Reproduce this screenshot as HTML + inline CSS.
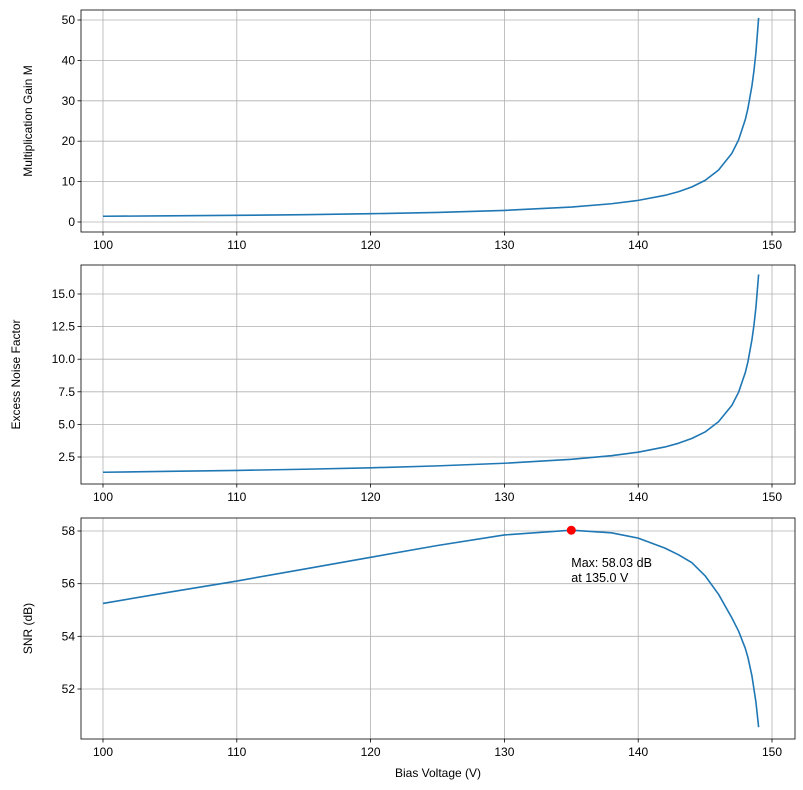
<!DOCTYPE html>
<html><head><meta charset="utf-8"><style>
html,body{margin:0;padding:0;background:#fff;}
svg{display:block;font-family:"Liberation Sans","DejaVu Sans",sans-serif;}
</style></head><body>
<svg id="fig" width="803" height="790"></svg>
<script>
const voltages=[100,105,110,115,120,125,130,135,138,140,142,143,144,145,146,147,147.5,148,148.2,148.5,148.65,148.8,149];
const gainValues=[1.42,1.52,1.65,1.82,2.05,2.37,2.87,3.69,4.52,5.35,6.6,7.49,8.67,10.3,12.85,17.0,20.3,25.3,28.1,33.7,37.4,42,50.5];
const noiseValues=[1.33,1.40,1.47,1.56,1.67,1.82,2.02,2.32,2.60,2.87,3.27,3.55,3.92,4.42,5.2,6.46,7.46,8.96,9.8,11.49,12.6,13.98,16.5];
const snrValues=[55.25,55.68,56.1,56.55,57.0,57.45,57.85,58.03,57.93,57.73,57.35,57.1,56.8,56.3,55.6,54.7,54.2,53.55,53.2,52.5,52.0,51.5,50.55];
const xTicks=[100,110,120,130,140,150];
const gainTicks=[0,10,20,30,40,50];
const noiseTicks=["2.5","5.0","7.5","10.0","12.5","15.0"];
const snrTicks=[52,54,56,58];
const peakV=135, peakSNR=58.03;

const NS="http://www.w3.org/2000/svg";
const svg=document.getElementById('fig');
function mk(tag,attrs,parent){const e=document.createElementNS(NS,tag);for(const k in attrs)e.setAttribute(k,attrs[k]);(parent||svg).appendChild(e);return e;}
const L=81,R=795;
const xs=v=>103+(v-100)*(772-103)/50;
function panel(name,top,bot,yfun,ticks,vals,ylabel,labelX){
  const g=mk('g',{});
  
  
  xTicks.forEach(t=>{const l=mk('line',{x1:xs(t),x2:xs(t),y1:top,y2:bot,stroke:'#b0b0b0','stroke-width':0.8},g);
    
    mk('line',{x1:xs(t),x2:xs(t),y1:bot,y2:bot+3.5,stroke:'#000','stroke-width':0.8},g);
    const tx=mk('text',{x:xs(t),y:bot+17,'font-size':12,'text-anchor':'middle'},g);tx.textContent=t;
    });
  ticks.forEach(t=>{const y=yfun(parseFloat(t));
    const l=mk('line',{x1:L,x2:R,y1:y,y2:y,stroke:'#b0b0b0','stroke-width':0.8},g);
    
    mk('line',{x1:L-3.5,x2:L,y1:y,y2:y,stroke:'#000','stroke-width':0.8},g);
    const tx=mk('text',{x:L-6,y:y+4,'font-size':12,'text-anchor':'end'},g);tx.textContent=t;
    });
  const pts=voltages.map((v,i)=>xs(v).toFixed(2)+','+yfun(vals[i]).toFixed(2)).join(' ');
  const pl=mk('polyline',{points:pts,fill:'none',stroke:'#1f77b4','stroke-width':1.6,'stroke-linejoin':'round'},g);
  
  const fr=mk('rect',{x:L,y:top,width:R-L,height:bot-top,fill:'none',stroke:'#000','stroke-width':0.8},g);
  
  const cy=(top+bot)/2;
  const yl=mk('text',{x:labelX,y:cy,'font-size':12,'text-anchor':'middle',transform:`rotate(-90 ${labelX} ${cy})`},g);
  yl.textContent=ylabel;
  return g;
}
const y1=v=>222-(v)*(222-20)/50;
const y2=v=>457-(v-2.5)*(457-294)/12.5;
const y3=v=>531-(v-58)*(689-531)/6;
panel('gain',10,232,y1,gainTicks,gainValues,'Multiplication Gain M',32);
panel('noise',265,484,y2,noiseTicks,noiseValues,'Excess Noise Factor',20);
const g3=panel('snr',518,739,y3,snrTicks,snrValues,'SNR (dB)',32);
const pk=mk('circle',{cx:xs(peakV),cy:y3(peakSNR),r:4.5,fill:'#ff0000'},g3);

const an=mk('text',{x:xs(peakV),y:567,'font-size':12.5},g3);

const t1=mk('tspan',{x:xs(peakV),dy:0},an);t1.textContent='Max: '+peakSNR.toFixed(2)+' dB';
const t2=mk('tspan',{x:xs(peakV),dy:15},an);t2.textContent='at '+peakV.toFixed(1)+' V';
const xl=mk('text',{x:(L+R)/2,y:777,'font-size':12,'text-anchor':'middle'});
xl.textContent='Bias Voltage (V)';
</script>
</body></html>
